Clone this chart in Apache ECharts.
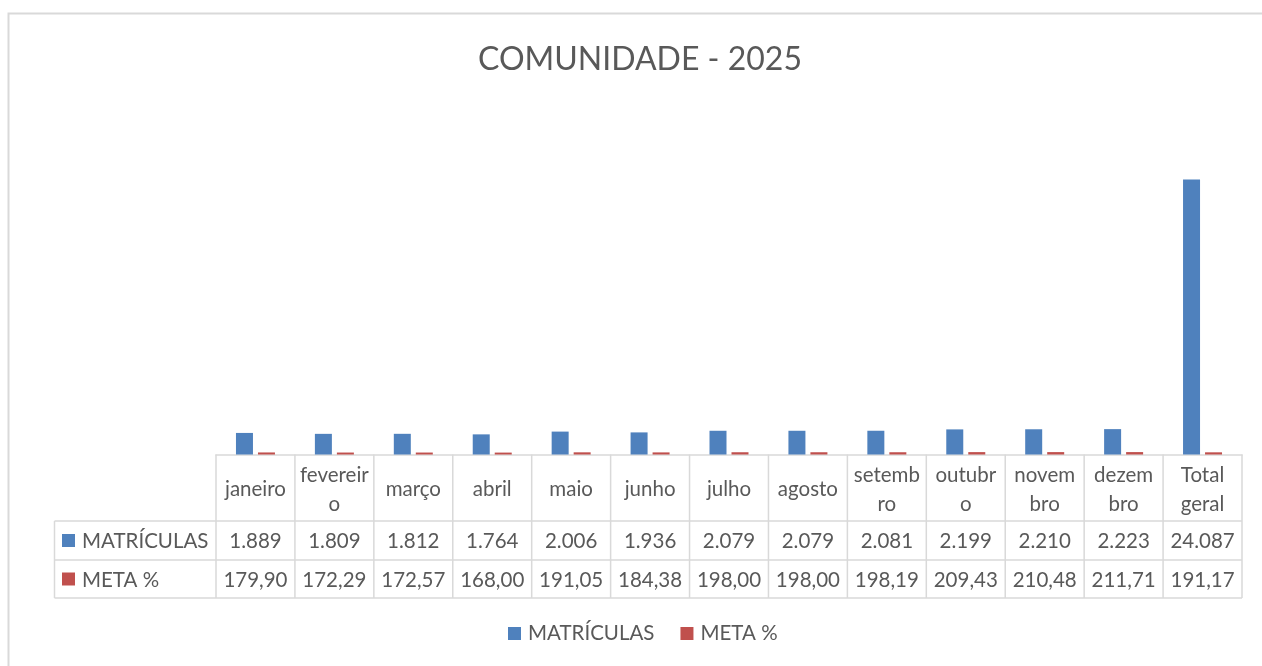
<!DOCTYPE html>
<html>
<head>
<meta charset="utf-8">
<script src="https://cdn.jsdelivr.net/npm/echarts@6/dist/echarts.min.js"></script>
<style>
html,body{margin:0;padding:0;background:#fff;}
#chart{width:1262px;height:666px;}
</style>
</head>
<body>
<div id="chart"></div>
<script>
const categories = ['janeiro','fevereiro','março','abril','maio','junho','julho','agosto','setembro','outubro','novembro','dezembro','Total geral'];
const categoryLabels = ['janeiro','fevereir\no','março','abril','maio','junho','julho','agosto','setemb\nro','outubr\no','novem\nbro','dezem\nbro','Total\ngeral'];
const matriculas = [1889,1809,1812,1764,2006,1936,2079,2079,2081,2199,2210,2223,24087];
const meta = [179.90,172.29,172.57,168.00,191.05,184.38,198.00,198.00,198.19,209.43,210.48,211.71,191.17];
const seriesNames = ['MATRÍCULAS','META %'];
const titleText = 'COMUNIDADE - 2025';

const FONT = 'Lato';
const TXT = '#595959';
const GRID_LINE = '#d9d9d9';
const BLUE = '#4f81bd';
const RED = '#c0504d';
const FS = 20.5;

function fmtInt(n){ return String(Math.round(n)).replace(/\B(?=(\d{3})+(?!\d))/g,'.'); }
function fmtDec(n){ return n.toFixed(2).replace('.',','); }

const chart = echarts.init(document.getElementById('chart'));
const option = {
  animation:false,
  backgroundColor:'#fff',
  title:{text:titleText,left:640,textAlign:'center',top:44,padding:0,
    textStyle:{fontFamily:FONT,fontSize:32,fontWeight:'normal',color:TXT}},
  legend:{data:seriesNames,left:508,top:623,padding:0,icon:'rect',itemWidth:13,itemHeight:13,itemGap:26,
    textStyle:{fontFamily:FONT,fontSize:FS,color:TXT,padding:[0,0,0,2]}},
  grid:{left:216,right:20,top:112,bottom:211.5,containLabel:false},
  xAxis:{type:'category',data:categories,
    axisLine:{show:true,lineStyle:{color:GRID_LINE,width:1.5}},
    axisTick:{show:false},axisLabel:{show:false},splitLine:{show:false}},
  yAxis:{type:'value',min:0,max:30000,show:false,splitLine:{show:false}},
  series:[
    {name:seriesNames[0],type:'bar',data:matriculas,barWidth:17,barGap:'29.4%',itemStyle:{color:BLUE}},
    {name:seriesNames[1],type:'bar',data:meta,barWidth:17,itemStyle:{color:RED}}
  ]
};
chart.setOption(option);

function buildTable(){
  const g = [];
  const n = categories.length;
  const x0 = chart.convertToPixel({xAxisIndex:0}, 0);
  const x1 = chart.convertToPixel({xAxisIndex:0}, 1);
  const cw = x1 - x0;
  const left = x0 - cw/2;
  const right = left + cw*n;
  const top = chart.convertToPixel({yAxisIndex:0}, 0);
  const r1 = 521, r2 = 560, r3 = 598, labelLeft = 54.5;
  const ls = {stroke:GRID_LINE,lineWidth:1.5};
  g.push({type:'rect',shape:{x:8.5,y:13.5,width:1300,height:700},style:{fill:null,stroke:GRID_LINE,lineWidth:2},silent:true});
  g.push({type:'line',shape:{x1:labelLeft,y1:r1,x2:right,y2:r1},style:ls});
  g.push({type:'line',shape:{x1:labelLeft,y1:r2,x2:right,y2:r2},style:ls});
  g.push({type:'line',shape:{x1:labelLeft,y1:r3,x2:right,y2:r3},style:ls});
  g.push({type:'line',shape:{x1:labelLeft,y1:r1,x2:labelLeft,y2:r3},style:ls});
  for(let i=0;i<=n;i++){
    const x = left + cw*i;
    g.push({type:'line',shape:{x1:x,y1:top,x2:x,y2:r3},style:ls});
  }
  const ts = {fontFamily:FONT,fontSize:FS,fill:TXT,align:'center',verticalAlign:'middle',lineHeight:29};
  for(let i=0;i<n;i++){
    const cx = chart.convertToPixel({xAxisIndex:0}, i);
    g.push({type:'text',x:cx,y:(top+r1)/2+2,style:Object.assign({},ts,{text:categoryLabels[i]})});
    g.push({type:'text',x:cx,y:(r1+r2)/2+1,style:Object.assign({},ts,{text:fmtInt(matriculas[i])})});
    g.push({type:'text',x:cx,y:(r2+r3)/2+1,style:Object.assign({},ts,{text:fmtDec(meta[i])})});
  }
  const rows = [[seriesNames[0],BLUE,(r1+r2)/2],[seriesNames[1],RED,(r2+r3)/2]];
  rows.forEach(r=>{
    g.push({type:'rect',shape:{x:62,y:r[2]-6.5,width:13,height:13},style:{fill:r[1]}});
    g.push({type:'text',x:82,y:r[2]+1,style:{text:r[0],fontFamily:FONT,fontSize:FS,fill:TXT,align:'left',verticalAlign:'middle'}});
  });
  chart.setOption({graphic:{elements:g}});
}
buildTable();
</script>
</body>
</html>
